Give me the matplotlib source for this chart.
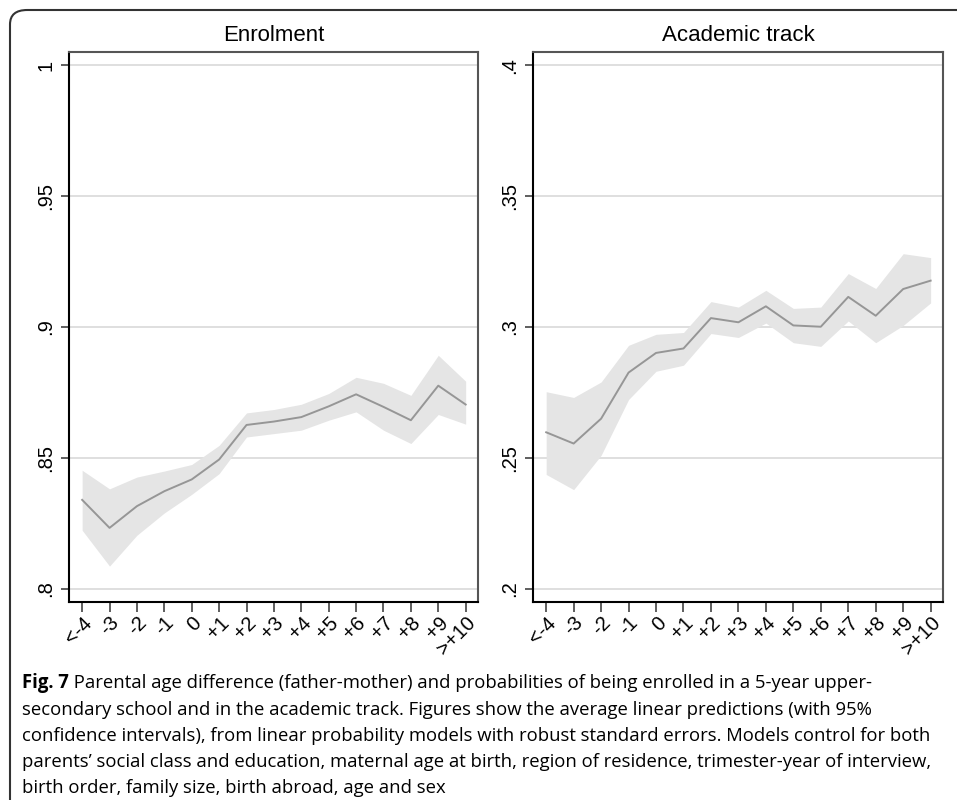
import matplotlib
matplotlib.use("Agg")
import matplotlib.pyplot as plt
from matplotlib.patches import FancyBboxPatch
import numpy as np

plt.rcParams['font.family'] = ['Liberation Sans', 'DejaVu Sans']

categories = ["<-4", "-3", "-2", "-1", "0", "+1", "+2", "+3", "+4", "+5", "+6", "+7", "+8", "+9", ">+10"]

enrol_mean = [0.834, 0.8233, 0.8316, 0.8373, 0.8418, 0.8494, 0.8626, 0.8639, 0.8656, 0.8697,
              0.8743, 0.8695, 0.8644, 0.8776, 0.8704]
enrol_upper = [0.8453, 0.8382, 0.8427, 0.8450, 0.8475, 0.8548, 0.8672, 0.8685, 0.8705, 0.8746,
               0.8808, 0.8785, 0.8739, 0.8892, 0.8793]
enrol_lower = [0.8224, 0.8087, 0.8205, 0.8290, 0.8361, 0.8440, 0.8580, 0.8593, 0.8606, 0.8644,
               0.8676, 0.8606, 0.8555, 0.8666, 0.8629]

acad_mean = [0.2598, 0.2555, 0.2650, 0.2826, 0.2901, 0.2918, 0.3034, 0.3018, 0.3079, 0.3006,
             0.3001, 0.3115, 0.3043, 0.3145, 0.3177]
acad_upper = [0.2753, 0.2731, 0.2790, 0.2930, 0.2972, 0.2979, 0.3097, 0.3076, 0.3140, 0.3071,
              0.3076, 0.3204, 0.3147, 0.3280, 0.3265]
acad_lower = [0.2437, 0.2379, 0.2510, 0.2723, 0.2831, 0.2854, 0.2975, 0.2960, 0.3015, 0.2940,
              0.2926, 0.3023, 0.2940, 0.3006, 0.3092]

enrol_ticks = [0.8, 0.85, 0.9, 0.95, 1.0]
enrol_ticklabels = [".8", ".85", ".9", ".95", "1"]
acad_ticks = [0.2, 0.25, 0.3, 0.35, 0.4]
acad_ticklabels = [".2", ".25", ".3", ".35", ".4"]

titles = ["Enrolment", "Academic track"]

caption_bold = "Fig. 7"
caption_lines = [
    " Parental age difference (father-mother) and probabilities of being enrolled in a 5-year upper-",
    "secondary school and in the academic track. Figures show the average linear predictions (with 95%",
    "confidence intervals), from linear probability models with robust standard errors. Models control for both",
    "parents\u2019 social class and education, maternal age at birth, region of residence, trimester-year of interview,",
    "birth order, family size, birth abroad, age and sex",
]

W, H = 957, 800
fig = plt.figure(figsize=(W / 100, H / 100), dpi=100)

# outer frame (rounded, open to right/bottom)
frame = FancyBboxPatch((10 / W, -20 / H), (W + 20) / W, (H - 10 + 20) / H,
                       boxstyle="round,pad=0,rounding_size=0.018",
                       transform=fig.transFigure, fill=False, edgecolor="#333333",
                       linewidth=1.5, clip_on=False)
fig.patches.append(frame)

panels = [
    (69, 478, enrol_mean, enrol_lower, enrol_upper, enrol_ticks, enrol_ticklabels, (0.795, 1.005)),
    (533, 943, acad_mean, acad_lower, acad_upper, acad_ticks, acad_ticklabels, (0.195, 0.405)),
]

x = np.arange(len(categories))
top, bottom = 52, 602
for i, (l, r, m, lo, up, ticks, tlabels, ylim) in enumerate(panels):
    ax = fig.add_axes([l / W, 1 - bottom / H, (r - l) / W, (bottom - top) / H])
    ax.fill_between(x, lo, up, color="#e5e5e5", linewidth=0, zorder=2)
    ax.plot(x, m, color="#969696", linewidth=1.4, zorder=3)
    ax.set_xlim(-0.48, 14.45)
    ax.set_ylim(*ylim)
    ax.set_yticks(ticks)
    ax.set_yticklabels(tlabels, rotation=90, va="center", fontsize=14.5)
    ax.set_xticks(x)
    ax.set_xticklabels(categories, rotation=45, ha="right", rotation_mode="anchor", fontsize=14.5)
    ax.yaxis.grid(True, color="#dcdcdc", linewidth=1.3, zorder=1)
    ax.set_axisbelow(True)
    for s in ax.spines.values():
        s.set_linewidth(1.5)
        s.set_color("black")
    ax.spines["right"].set_color("#555555")
    ax.spines["top"].set_color("#555555")
    ax.tick_params(axis="y", direction="out", length=6, width=1.1, color="#333333", pad=4)
    ax.tick_params(axis="x", direction="out", length=7, width=1.1, color="#333333", pad=1)
    ax.set_title(titles[i], fontsize=16, pad=8)

# caption
cap_font = ['Liberation Sans Narrow', 'Open Sans', 'DejaVu Sans']
fs0 = 14
ys = [683, 710, 736, 762, 788]
x0 = 22
fig.canvas.draw()
renderer = fig.canvas.get_renderer()
tb = fig.text(x0 / W, 1 - ys[0] / H, caption_bold, fontsize=fs0, fontweight="bold",
              family=cap_font, va="center", ha="left")
texts = []
for k, line in enumerate(caption_lines):
    t = fig.text(x0 / W, 1 - ys[k] / H, line, fontsize=fs0, family=cap_font, va="center", ha="left")
    texts.append(t)
fig.canvas.draw()
w4 = texts[3].get_window_extent(renderer).width
scale = (937 - x0) / w4
fs = fs0 * scale
tb.set_fontsize(fs)
for t in texts:
    t.set_fontsize(fs)
fig.canvas.draw()
bw = tb.get_window_extent(renderer).width
texts[0].set_x((x0 + bw) / W)

fig.savefig("out.png", dpi=100)
